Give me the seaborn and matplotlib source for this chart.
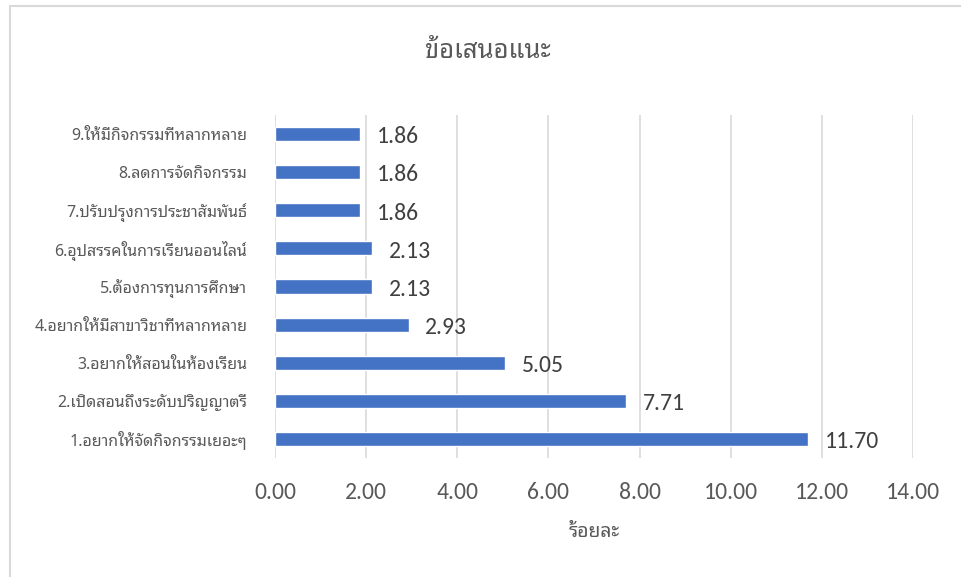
import matplotlib
matplotlib.use("Agg")
import matplotlib.pyplot as plt
import pandas as pd
import seaborn as sns
from matplotlib import font_manager as fm
from matplotlib.patches import Rectangle

categories = [
    "9.ให้มีกิจกรรมที่หลากหลาย",
    "8.ลดการจัดกิจกรรม",
    "7.ปรับปรุงการประชาสัมพันธ์",
    "6.อุปสรรคในการเรียนออนไลน์",
    "5.ต้องการทุนการศึกษา",
    "4.อยากให้มีสาขาวิชาที่หลากหลาย",
    "3.อยากให้สอนในห้องเรียน",
    "2.เปิดสอนถึงระดับปริญญาตรี",
    "1.อยากให้จัดกิจกรรมเยอะๆ",
]
percent = [1.86, 1.86, 1.86, 2.13, 2.13, 2.93, 5.05, 7.71, 11.70]
x_ticks = [0, 2, 4, 6, 8, 10, 12, 14]

title = "ข้อเสนอแนะ"
x_label = "ร้อยละ"


def pick_font(candidates, fallback):
    installed = {f.name for f in fm.fontManager.ttflist}
    for name in candidates:
        if name in installed:
            return name
    return fallback


sns.set_style("white")
thai_font = pick_font(["Noto Sans Thai Looped", "Noto Sans Thai", "Sarabun", "Anuphan"], "DejaVu Sans")
num_font = pick_font(["Carlito", "Open Sans", "Lato"], "DejaVu Sans")
plt.rcParams["font.family"] = [thai_font, "DejaVu Sans"]

df = pd.DataFrame({"category": categories, "percent": percent})

fig = plt.figure(figsize=(9.62, 5.77), dpi=100)
fig.patches.append(Rectangle((10 / 962, -0.1), 1.2, 1 - 6 / 577 + 0.1, transform=fig.transFigure,
                             facecolor="none", edgecolor="#d9d9d9", linewidth=1.5))
ax = fig.add_axes([275 / 962, 1 - 458 / 577, (913 - 275) / 962, (458 - 115) / 577])

sns.barplot(data=df, x="percent", y="category", color="#4472C4", width=0.37,
            saturation=1, ax=ax, zorder=3)

ax.set_xlim(0, 14)
ax.set_ylim(len(categories) - 0.5, -0.5)
ax.set_xticks(x_ticks)
ax.set_xticklabels([f"{t:.2f}" for t in x_ticks], family=num_font, fontsize=17, color="#595959")
ax.tick_params(axis="x", length=0, pad=17)
ax.tick_params(axis="y", length=0, pad=20)
for lbl in ax.get_yticklabels():
    lbl.set_fontsize(11.5)
    lbl.set_color("#595959")
ax.grid(axis="x", color="#d9d9d9", linewidth=1.2, zorder=0)
ax.set_axisbelow(True)
for s in ax.spines.values():
    s.set_visible(False)

for i, v in enumerate(percent):
    ax.annotate(f"{v:.2f}", xy=(v, i), xytext=(12, -2), textcoords="offset points",
                va="center", ha="left", fontsize=17, family=num_font, color="#404040")

ax.set_ylabel("")
ax.set_xlabel(x_label, fontsize=14, color="#595959", labelpad=14)
fig.text(488 / 962, 1 - 52 / 577, title, ha="center", va="center", fontsize=18.5, color="#595959")

fig.savefig("out.png", dpi=100)
